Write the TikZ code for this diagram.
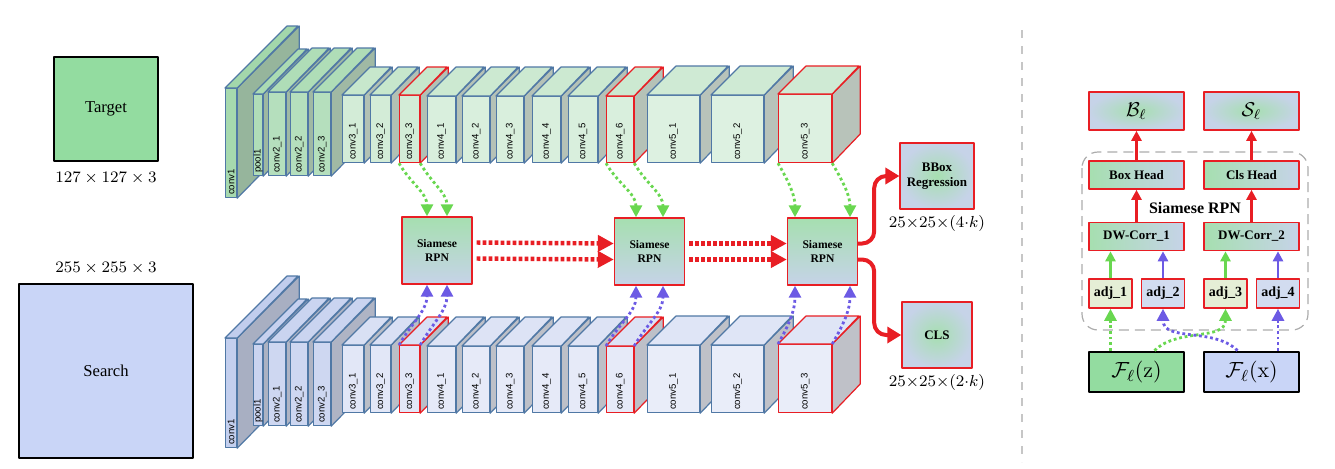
\documentclass[tikz,border=0pt]{standalone}
\usepackage[no-math]{fontspec}
\setmainfont{Liberation Serif}
\newfontfamily\blockfont{Liberation Sans}
\usetikzlibrary{arrows.meta,positioning}

\definecolor{gbase}{RGB}{150,210,160}
\definecolor{bbase}{RGB}{185,198,235}
\definecolor{edgeblue}{RGB}{80,120,165}
\definecolor{hired}{RGB}{232,30,36}
\definecolor{tgtgreen}{RGB}{147,220,160}
\definecolor{srchblue}{RGB}{201,213,247}
\definecolor{rpngreen}{RGB}{166,223,176}
\definecolor{rpnblue}{RGB}{198,211,232}
\definecolor{zgreen}{RGB}{105,215,80}
\definecolor{xblue}{RGB}{108,90,228}
\definecolor{adjgreen}{RGB}{229,238,214}
\definecolor{adjblue}{RGB}{210,220,240}

\tikzset{
  blockface/.style={line width=0.6pt, inner sep=0pt, anchor=north west},
  blocklabel/.style={font=\blockfont\fontsize{4.8}{5.5}\selectfont, inner sep=1.5pt, rotate=90, anchor=west},
  inbox/.style={draw=black, line width=0.8pt, font=\fontsize{8.3}{10}\selectfont},
  dimlabel/.style={font=\fontsize{8.3}{10}\selectfont, inner sep=2pt},
  rpn/.style={draw=hired, line width=0.7pt, top color=rpngreen, bottom color=rpnblue,
    minimum width=35pt, minimum height=33.5pt, align=center, font=\bfseries\fontsize{5.8}{7}\selectfont},
  headbox/.style={draw=hired, line width=0.7pt, inner color=rpngreen, outer color=rpnblue,
    minimum width=35pt, minimum height=33pt, align=center, font=\bfseries\fontsize{6.5}{7.5}\selectfont},
  outbox/.style={draw=hired, line width=0.8pt, inner color=rpngreen, outer color=rpnblue,
    minimum width=47.5pt, minimum height=19pt, font=\fontsize{10}{12}\selectfont},
  headbar/.style={draw=hired, line width=0.8pt, left color=rpngreen, right color=rpnblue,
    minimum width=47.5pt, minimum height=14pt, inner sep=1pt, font=\bfseries\fontsize{6.5}{8}\selectfont},
  adjbox/.style={draw=hired, line width=0.8pt, minimum width=21.5pt, minimum height=14.5pt,
    inner sep=1pt, font=\bfseries\fontsize{7}{8}\selectfont},
  featbox/.style={draw=black, line width=1.4pt, minimum width=47.5pt, minimum height=20pt,
    font=\fontsize{11}{13}\selectfont},
  zflow/.style={zgreen, line width=1.4pt, dash pattern=on 1.4pt off 1.4pt, -{Triangle[length=6pt,width=6pt]}},
  xflow/.style={xblue, line width=1.4pt, dash pattern=on 1.4pt off 1.4pt, -{Triangle[length=6pt,width=6pt]}},
  rflow/.style={hired, line width=2.2pt, dash pattern=on 1.8pt off 1.2pt, shorten <=2pt, -{Triangle[length=8pt,width=8pt]}},
  rout/.style={hired, line width=2pt, rounded corners=6pt, -{Triangle[length=7pt,width=8pt]}},
  hflow/.style={hired, line width=1.4pt, -{Triangle[length=5pt,width=5pt]}},
  gsolid/.style={zgreen, line width=1.4pt, -{Triangle[length=5pt,width=5pt]}},
  bsolid/.style={xblue, line width=1.4pt, -{Triangle[length=5pt,width=5pt]}},
  sepline/.style={gray!45, line width=0.8pt, dash pattern=on 4pt off 4pt},
  rpnframe/.style={gray!65, line width=0.6pt, dash pattern=on 5pt off 3pt, rounded corners=8pt}
}

\begin{document}
\begin{tikzpicture}[x=0.5pt, y=-0.5pt, line join=round]
\useasboundingbox (0,0) rectangle (1335,468);

% inputs
\node[inbox, fill=tgtgreen, minimum size=52pt] (target) at (106,109) {Target};
\node[dimlabel, below=3pt of target] (tdim) {$127 \times 127 \times 3$};
\node[inbox, fill=srchblue, minimum size=87pt] (search) at (106,371) {Search};
\node[dimlabel, above=2.5pt of search] (sdim) {$255 \times 255 \times 3$};

% backbone, template row then search row
\foreach \rw/\yo/\base in {t/0/gbase, b/250/bbase}{
  \foreach \bn/\bx/\by/\bw/\bh/\bd/\bs/\be/\bl in {
      1/225/88/11/109/62/85/edgeblue/conv1,
      2/253/94/9/81/45/75/edgeblue/pool1,
      3/268/92/17/83/44/70/edgeblue/conv2\_1,
      4/290/92/17/83/44/70/edgeblue/conv2\_2,
      5/313/92/17/83/44/70/edgeblue/conv2\_3,
      6/342/95/21/67/28/42/edgeblue/conv3\_1,
      7/370/95/20/67/28/42/edgeblue/conv3\_2,
      8/399/95/20/67/28/42/hired/conv3\_3,
      9/427/96/28/66/29/36/edgeblue/conv4\_1,
      10/462/96/27/66/29/36/edgeblue/conv4\_2,
      11/496/96/27/66/29/36/edgeblue/conv4\_3,
      12/532/96/28/66/29/36/edgeblue/conv4\_4,
      13/568/96/29/66/29/36/edgeblue/conv4\_5,
      14/606/96/27/66/29/36/hired/conv4\_6,
      15/647/95/52/67/29/32/edgeblue/conv5\_1,
      16/711/95/52/67/29/32/edgeblue/conv5\_2,
      17/778/94/53/68/28/32/hired/conv5\_3}{
    \node[blockface, draw=\be, fill=\base!\bs!white, minimum width=\bw*0.5pt, minimum height=\bh*0.5pt] (\rw\bn) at (\bx,\by+\yo) {};
    \filldraw[draw=\be, line width=0.6pt, fill=\base!\bs!white!60!gray]
      (\rw\bn.north east) -- ++(\bd,-\bd) -- ++(0,\bh) -- (\rw\bn.south east) -- cycle;
    \filldraw[draw=\be, line width=0.6pt, fill=\base!\bs!white!80!\base]
      (\rw\bn.north west) -- ++(\bd,-\bd) -- ++(\bw,0) -- (\rw\bn.north east) -- cycle;
    \node[blocklabel] (\rw\bn l) at (\rw\bn.south) {\bl};
  }
}

% siamese rpn blocks
\node[rpn] (sr1) at (437,250.5) {Siamese\\RPN};
\node[rpn] (sr2) at (649.5,251.5) {Siamese\\RPN};
\node[rpn] (sr3) at (822.5,251.5) {Siamese\\RPN};

\draw[zflow] (t8.south west) to[out=-60,in=90] ([xshift=-5pt]sr1.north);
\draw[zflow] (t8.south east) to[out=-60,in=90] ([xshift=5pt]sr1.north);
\draw[zflow] (t14.south west) to[out=-60,in=90] ([xshift=-6.75pt]sr2.north);
\draw[zflow] (t14.south east) to[out=-60,in=90] ([xshift=6.75pt]sr2.north);
\draw[zflow] (t17.south west) to[out=-60,in=90] ([xshift=-13.75pt]sr3.north);
\draw[zflow] (t17.south east) to[out=-60,in=90] ([xshift=13.75pt]sr3.north);

\draw[xflow] (b8.north west) to[out=60,in=-90] ([xshift=-5pt]sr1.south);
\draw[xflow] (b8.north east) to[out=60,in=-90] ([xshift=5pt]sr1.south);
\draw[xflow] (b14.north west) to[out=60,in=-90] ([xshift=-6.75pt]sr2.south);
\draw[xflow] (b14.north east) to[out=60,in=-90] ([xshift=6.75pt]sr2.south);
\draw[xflow] (b17.north west) to[out=60,in=-90] ([xshift=-13.75pt]sr3.south);
\draw[xflow] (b17.north east) to[out=60,in=-90] ([xshift=13.75pt]sr3.south);

\draw[rflow] ([yshift=4pt]sr1.east) -- ([yshift=4pt]sr2.west);
\draw[rflow] ([yshift=-4pt]sr1.east) -- ([yshift=-4pt]sr2.west);
\draw[rflow] ([yshift=4pt]sr2.east) -- ([yshift=4pt]sr3.west);
\draw[rflow] ([yshift=-4pt]sr2.east) -- ([yshift=-4pt]sr3.west);

% outputs
\node[headbox] (bbox) at (937,176) {BBox\\Regression};
\node[headbox] (cls) at (937,335) {CLS};
\node[dimlabel, below=0.5pt of bbox] (bdim) {$25{\times}25{\times}(4{\cdot}k)$};
\node[dimlabel, below=0.5pt of cls] (cdim) {$25{\times}25{\times}(2{\cdot}k)$};
\draw[rout] ([yshift=4pt]sr3.east) -- ++(8pt,0) |- (bbox.west);
\draw[rout] ([yshift=-4pt]sr3.east) -- ++(8pt,0) |- (cls.west);

\draw[sepline] (1022,30) -- (1022,462);

% siamese rpn in detail
\draw[rpnframe] (1082,152) rectangle (1308,330);
\node[font=\bfseries\fontsize{8}{10}\selectfont] (rpnname) at (1195,208) {Siamese RPN};
\node[outbox] (bout) at (1136.5,111) {$\mathcal{B}_\ell$};
\node[outbox] (sout) at (1251.5,111) {$\mathcal{S}_\ell$};
\node[headbar] (bhead) at (1136.5,175) {Box Head};
\node[headbar] (chead) at (1251.5,175) {Cls Head};
\node[headbar] (dw1) at (1136.5,236.5) {DW-Corr\_1};
\node[headbar] (dw2) at (1251.5,236.5) {DW-Corr\_2};
\node[adjbox, fill=adjgreen] (adj1) at (1110.5,293.5) {adj\_1};
\node[adjbox, fill=adjblue] (adj2) at (1163,293.5) {adj\_2};
\node[adjbox, fill=adjgreen] (adj3) at (1225.5,293.5) {adj\_3};
\node[adjbox, fill=adjblue] (adj4) at (1278,293.5) {adj\_4};
\node[featbox, fill=tgtgreen] (fz) at (1136.5,372) {$\mathcal{F}_\ell(\mathrm{z})$};
\node[featbox, fill=srchblue] (fx) at (1251.5,372) {$\mathcal{F}_\ell(\mathrm{x})$};

\draw[hflow] (dw1) -- (bhead);
\draw[hflow] (bhead) -- (bout);
\draw[hflow] (dw2) -- (chead);
\draw[hflow] (chead) -- (sout);
\draw[gsolid] (adj1) -- (adj1 |- dw1.south);
\draw[bsolid] (adj2) -- (adj2 |- dw1.south);
\draw[gsolid] (adj3) -- (adj3 |- dw2.south);
\draw[bsolid] (adj4) -- (adj4 |- dw2.south);
\draw[zflow] (adj1 |- fz.north) -- (adj1);
\draw[zflow] ([xshift=9pt]fz.north) to[out=45,in=-90] (adj3.south);
\draw[xflow] ([xshift=-7pt]fx.north) to[out=135,in=-90] (adj2.south);
\draw[xflow] (adj4 |- fx.north) -- (adj4);
\end{tikzpicture}
\end{document}
